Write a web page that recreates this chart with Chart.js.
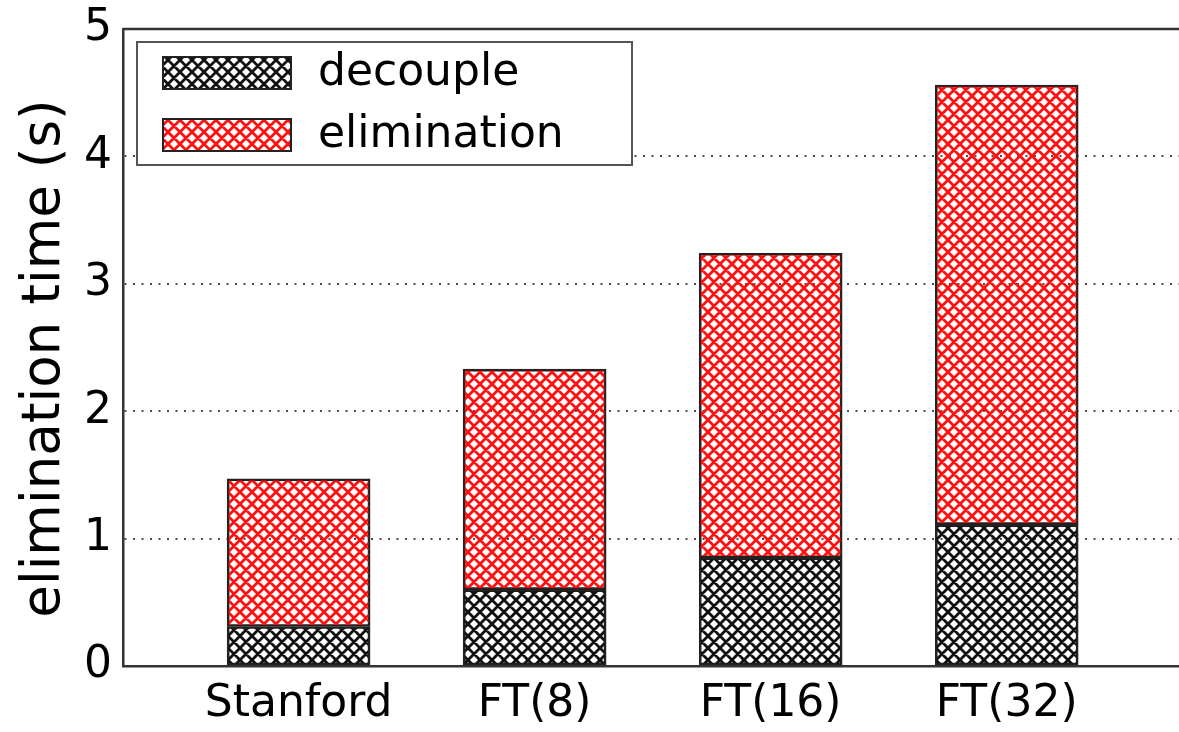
<!DOCTYPE html>
<html>
<head>
<meta charset="utf-8">
<script src="https://cdn.jsdelivr.net/npm/chart.js@4/dist/chart.umd.min.js"></script>
<style>
  html, body { margin: 0; padding: 0; background: #fff; }
  #wrap { width: 1179px; height: 732px; position: relative; background: #fff; }
</style>
</head>
<body>
<div id="wrap"><canvas id="c" width="1179" height="732"></canvas></div>
<script>
// Network topologies on the x axis
const categories = ['Stanford', 'FT(8)', 'FT(16)', 'FT(32)'];
// Seconds spent decoupling (bottom segment of each bar)
const decoupleTime = [0.31, 0.60, 0.85, 1.11];
// Seconds spent on elimination, stacked on top of decoupling
const eliminationTime = [1.16, 1.73, 2.39, 3.45];
// Y axis tick values
const yTicks = [0, 1, 2, 3, 4, 5];
const yTitle = 'elimination time (s)';

const FONT = '"DejaVu Sans", Verdana, sans-serif';

// Cross-hatch fill, drawn on a transparent tile so grid lines show through
function crossHatch(color) {
  const s = 12;
  const t = document.createElement('canvas');
  t.width = s; t.height = s;
  const g = t.getContext('2d');
  g.strokeStyle = color;
  g.lineWidth = 2.8;
  g.lineCap = 'square';
  g.beginPath();
  for (let k = -1; k <= 1; k++) {
    g.moveTo(k * s, 0); g.lineTo(k * s + s, s);
    g.moveTo(k * s + s, 0); g.lineTo(k * s, s);
  }
  g.stroke();
  return document.getElementById('c').getContext('2d').createPattern(t, 'repeat');
}

const blackHatch = crossHatch('#111');
const redHatch = crossHatch('#ff1010');

const toPoints = arr => arr.map((v, i) => ({ x: i, y: v }));

// Top frame line, rotated y title and the boxed key in the upper-left of the plot
const framePlugin = {
  id: 'frameAndKey',
  afterDraw(chart) {
    const { ctx, chartArea: a } = chart;
    ctx.save();
    ctx.strokeStyle = '#333';
    ctx.lineWidth = 2.5;
    ctx.beginPath();
    ctx.moveTo(a.left, a.top);
    ctx.lineTo(a.right, a.top);
    ctx.stroke();

    // y axis title, sitting slightly below the plot's vertical centre
    ctx.save();
    ctx.translate(45, (a.top + a.bottom) / 2 + 11);
    ctx.rotate(-Math.PI / 2);
    ctx.fillStyle = '#000';
    ctx.font = '53px ' + FONT;
    ctx.textAlign = 'center';
    ctx.textBaseline = 'middle';
    ctx.fillText(yTitle, 0, 0);
    ctx.restore();

    // key box
    const bx = a.left + 14, by = a.top + 13, bw = 495, bh = 123;
    ctx.fillStyle = '#fff';
    ctx.fillRect(bx, by, bw, bh);
    ctx.strokeStyle = '#555';
    ctx.lineWidth = 2;
    ctx.strokeRect(bx, by, bw, bh);

    chart.data.datasets.forEach((ds, i) => {
      const sx = bx + 26, sy = by + 15 + i * 62, sw = 128, sh = 32;
      ctx.fillStyle = ds.backgroundColor;
      ctx.fillRect(sx, sy, sw, sh);
      ctx.strokeStyle = '#222';
      ctx.lineWidth = 2;
      ctx.strokeRect(sx, sy, sw, sh);
      ctx.fillStyle = '#000';
      ctx.font = '44px ' + FONT;
      ctx.textBaseline = 'middle';
      ctx.textAlign = 'left';
      ctx.fillText(ds.label, sx + sw + 27, sy + sh / 2 + 1);
    });
    ctx.restore();
  }
};

new Chart(document.getElementById('c'), {
  type: 'bar',
  data: {
    datasets: [
      {
        label: 'decouple',
        data: toPoints(decoupleTime),
        backgroundColor: blackHatch,
        borderColor: '#222',
        borderWidth: 2,
        borderSkipped: false,
        barThickness: 143
      },
      {
        label: 'elimination',
        data: toPoints(eliminationTime),
        backgroundColor: redHatch,
        borderColor: '#222',
        borderWidth: 2,
        borderSkipped: false,
        barThickness: 143
      }
    ]
  },
  options: {
    responsive: false,
    animation: false,
    devicePixelRatio: 1,
    layout: { padding: { top: 29, right: 0, bottom: 0, left: 0 } },
    plugins: { legend: { display: false }, tooltip: { enabled: false } },
    scales: {
      x: {
        type: 'linear',
        stacked: true,
        offset: false,
        min: -0.744,
        max: 3.73,
        afterBuildTicks: s => { s.ticks = categories.map((_, i) => ({ value: i })); },
        afterFit: s => { s.height = 66; s.paddingLeft = 0; s.paddingRight = 0; },
        ticks: {
          callback: v => categories[v],
          font: { family: FONT, size: 44 },
          color: '#000',
          padding: 12,
          maxRotation: 0,
          autoSkip: false
        },
        grid: { display: false, drawTicks: false, offset: false },
        border: { display: true, color: '#333', width: 2.5 }
      },
      y: {
        stacked: true,
        min: 0,
        max: 5,
        afterBuildTicks: s => { s.ticks = yTicks.map(v => ({ value: v })); },
        afterFit: s => { s.width = 123; s.paddingTop = 0; s.paddingBottom = 0; },
        ticks: {
          font: { family: FONT, size: 44 },
          color: '#000',
          padding: 11
        },
        grid: {
          drawTicks: false,
          lineWidth: 2,
          color: c => (c.tick && c.tick.value > 0 && c.tick.value < 5) ? 'rgba(60,60,60,0.9)' : 'rgba(0,0,0,0)'
        },
        border: { display: true, color: '#333', width: 2.5, dash: [2, 6.5] }
      }
    }
  },
  plugins: [framePlugin]
});
</script>
</body>
</html>
